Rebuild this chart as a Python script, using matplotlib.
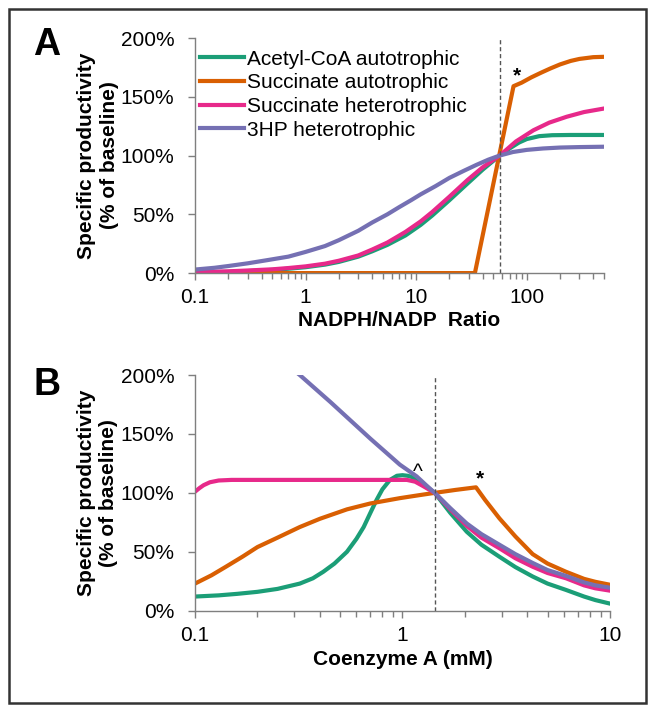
import matplotlib
matplotlib.use("Agg")
import matplotlib.pyplot as plt
from matplotlib.patches import Rectangle
from matplotlib.ticker import FixedLocator, FuncFormatter, LogLocator, NullFormatter

plt.rcParams['font.family'] = ['Liberation Sans', 'DejaVu Sans']
plt.rcParams['font.size'] = 15

# colours of the four strategies
c_acetyl = '#1b9e77'
c_succ_auto = '#d95f02'
c_succ_het = '#e7298a'
c_3hp = '#7570b3'

labels = ['Acetyl-CoA autotrophic', 'Succinate autotrophic',
          'Succinate heterotrophic', '3HP heterotrophic']

# ---- panel A: NADPH/NADP ratio (values in % of baseline) ----
a_acetyl_x = [0.1, 0.2, 0.3, 0.5, 0.7, 1, 1.5, 2, 3, 4, 5.5, 8, 11, 14, 20, 29, 40, 57,
              70, 85, 100, 130, 170, 250, 500]
a_acetyl_y = [0.5, 1, 1.7, 2.7, 3.7, 5, 7.2, 9.5, 14, 18.5, 24, 32, 41, 49, 62, 76, 88, 100,
              106, 111, 114, 116.5, 117.3, 117.5, 117.5]

a_succ_auto_x = [0.1, 34, 76, 90, 110, 135, 163, 200, 250, 300, 400, 500]
a_succ_auto_y = [0, 0, 159, 162, 166.5, 170.5, 174, 177.5, 180.5, 182.2, 183.7, 184]

a_succ_het_x = [0.1, 0.2, 0.3, 0.5, 0.7, 1, 1.5, 2, 3, 4, 5.5, 8, 11, 14, 20, 29, 40, 57,
                80, 115, 160, 230, 330, 500]
a_succ_het_y = [0.8, 1.5, 2.2, 3.2, 4.3, 5.7, 8, 10.5, 15, 20, 26, 35, 44, 52, 65, 79, 90, 100,
                112, 121.5, 128, 133, 137, 140]

a_3hp_x = [0.1, 0.15, 0.2, 0.3, 0.45, 0.7, 1, 1.5, 2, 3, 4, 5.5, 7, 9, 11, 15, 20, 27, 35,
           45, 57, 75, 100, 140, 200, 300, 500]
a_3hp_y = [3, 4.5, 6, 8.3, 11, 14, 18, 23, 28, 36, 43, 50, 56, 62, 67, 74, 81, 87, 92,
           96.5, 100, 103, 104.8, 106, 106.8, 107.2, 107.5]

a_baseline = 57

# ---- panel B: Coenzyme A (mM) ----
b_acetyl_x = [0.1, 0.13, 0.16, 0.2, 0.25, 0.32, 0.37, 0.415, 0.47, 0.54, 0.6, 0.65, 0.7,
              0.75, 0.8, 0.87, 0.94, 1.0, 1.06, 1.13, 1.2, 1.3, 1.43, 1.7, 2.04, 2.4,
              2.93, 3.5, 4.24, 5, 6.14, 7.5, 8.5, 10]
b_acetyl_y = [12, 13, 14.3, 16, 18.5, 23, 27.5, 33, 40, 50, 61, 71, 83,
              94, 103, 111, 114.5, 115, 114.5, 113, 110, 105.5, 100, 83, 67, 56,
              45.8, 37, 29, 23, 17.6, 12, 9, 6]

b_succ_auto_x = [0.1, 0.12, 0.14, 0.17, 0.2, 0.25, 0.32, 0.4, 0.54, 0.7, 0.97, 1.2, 1.43,
                 1.8, 2.26, 2.5, 2.93, 3.5, 4.24, 5, 6.14, 7.5, 8.5, 10]
b_succ_auto_y = [23, 30, 37, 46, 54, 62, 71, 78, 86, 91, 95.5, 98, 100,
                 102.5, 104.7, 94, 78.4, 63, 48, 40, 33, 27, 24.5, 22]

b_succ_het_x = [0.1, 0.105, 0.11, 0.118, 0.13, 0.15, 1.05, 1.15, 1.25, 1.43, 1.7, 2.04,
                2.4, 2.93, 3.5, 4.24, 5, 6.14, 7.5, 8.5, 10]
b_succ_het_y = [101, 104, 106.5, 109, 110.5, 111, 111, 109.5, 106, 100, 86, 72,
                62, 53, 44.5, 37.3, 32, 27.5, 21.5, 19, 17]

b_3hp_x = [0.3, 0.32, 0.45, 0.7, 0.97, 1.17, 1.3, 1.43, 1.7, 2.04, 2.4, 2.93, 3.5, 4.24,
           5, 6.14, 7.5, 8.5, 10]
b_3hp_y = [204, 200, 177, 146, 124, 114, 106.5, 100, 87, 74, 65, 56, 48, 40.5,
           34.5, 29.5, 24, 21.5, 19.5]

b_baseline = 1.43

fig = plt.figure(figsize=(6.55, 7.13), dpi=100)
axA = fig.add_axes([0.2977, 0.617, 0.6244, 0.3297])
axB = fig.add_axes([0.2977, 0.1435, 0.6336, 0.3305])

lw = 3
axA.plot(a_acetyl_x, a_acetyl_y, color=c_acetyl, lw=lw, label=labels[0])
axA.plot(a_succ_auto_x, a_succ_auto_y, color=c_succ_auto, lw=lw, label=labels[1])
axA.plot(a_succ_het_x, a_succ_het_y, color=c_succ_het, lw=lw, label=labels[2])
axA.plot(a_3hp_x, a_3hp_y, color=c_3hp, lw=lw, label=labels[3])
axA.axvline(a_baseline, color='#555555', lw=1, ls=(0, (3, 2)))
axA.text(82, 168, '*', ha='center', va='center', fontweight='bold')

axB.plot(b_acetyl_x, b_acetyl_y, color=c_acetyl, lw=lw)
axB.plot(b_succ_auto_x, b_succ_auto_y, color=c_succ_auto, lw=lw)
axB.plot(b_succ_het_x, b_succ_het_y, color=c_succ_het, lw=lw)
axB.plot(b_3hp_x, b_3hp_y, color=c_3hp, lw=lw)
axB.axvline(b_baseline, color='#555555', lw=1, ls=(0, (3, 2)))
axB.text(1.19, 117, '^', ha='center', va='center')
axB.text(2.36, 112, '*', ha='center', va='center', fontweight='bold')

axA.set_xlim(0.1, 500)
axB.set_xlim(0.1, 10)

for ax in (axA, axB):
    ax.set_xscale('log')
    ax.set_ylim(0, 200)
    ax.yaxis.set_major_locator(FixedLocator([0, 50, 100, 150, 200]))
    ax.yaxis.set_major_formatter(FuncFormatter(lambda v, p: '%d%%' % v))
    ax.xaxis.set_major_formatter(FuncFormatter(lambda v, p: '%g' % v))
    ax.xaxis.set_minor_locator(LogLocator(base=10, subs=range(2, 10)))
    ax.xaxis.set_minor_formatter(NullFormatter())
    for s in ('top', 'right'):
        ax.spines[s].set_visible(False)
    for s in ('left', 'bottom'):
        ax.spines[s].set_color('#7f7f7f')
        ax.spines[s].set_linewidth(1)
    ax.tick_params(which='both', direction='out', color='#7f7f7f', width=1)
    ax.tick_params(which='major', length=5)
    ax.tick_params(which='minor', length=4)
    ax.tick_params(axis='x', pad=6)
    ax.tick_params(axis='y', pad=10)
    ax.set_ylabel('Specific productivity\n(% of baseline)', fontweight='bold',
                  va='center', linespacing=1.25)

axA.yaxis.set_label_coords(-0.238, 0.5)
axB.yaxis.set_label_coords(-0.235, 0.5)
axA.set_xlabel('NADPH/NADP  Ratio', fontweight='bold', va='center')
axB.set_xlabel('Coenzyme A (mM)', fontweight='bold', va='center')
axA.xaxis.set_label_coords(0.5, -0.2)
axB.xaxis.set_label_coords(0.5, -0.209)

axA.legend(loc='upper left', bbox_to_anchor=(0.012, 0.95), frameon=False,
           borderpad=0, borderaxespad=0, handlelength=2.1, handletextpad=0.15,
           labelspacing=0.22)

fig.text(47 / 655, 1 - 45 / 713, 'A', fontsize=27, fontweight='bold',
         ha='center', va='center')
fig.text(47 / 655, 1 - 385 / 713, 'B', fontsize=27, fontweight='bold',
         ha='center', va='center')

fig.patches.append(Rectangle((9 / 655, 1 - 703 / 713), 637 / 655, 694 / 713,
                             transform=fig.transFigure, fill=False,
                             lw=1.8, ec='#333333'))

fig.savefig('out.png', dpi=100)
